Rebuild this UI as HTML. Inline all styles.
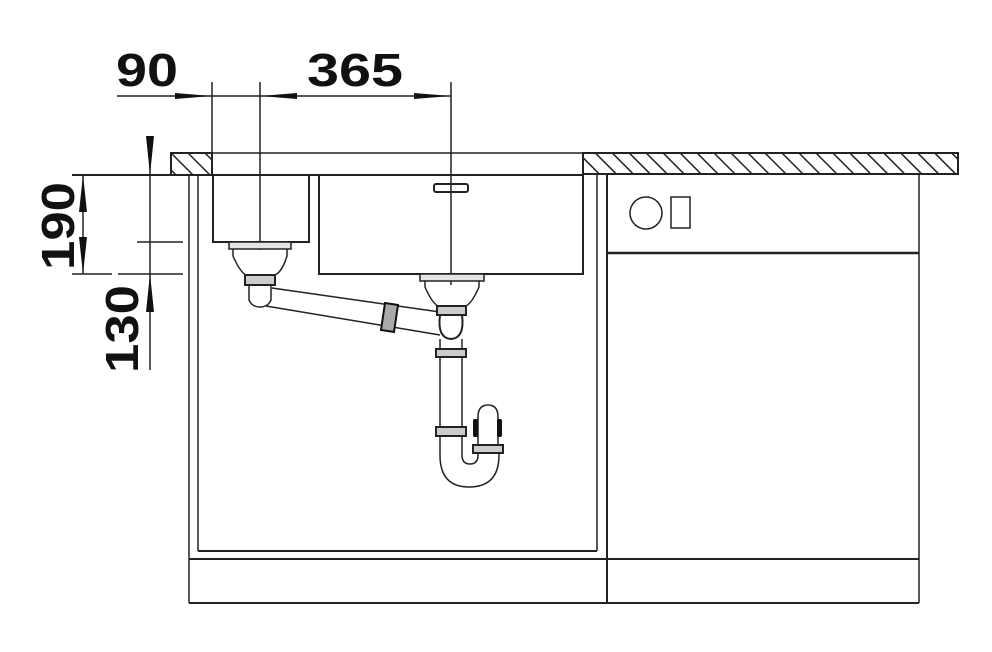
<!DOCTYPE html>
<html><head><style>html,body{margin:0;padding:0;background:#fff}</style></head><body>
<svg width="992" height="652" viewBox="0 0 992 652" xmlns="http://www.w3.org/2000/svg" style="display:block">
<defs>
<pattern id="h" width="12" height="12" patternUnits="userSpaceOnUse" patternTransform="rotate(-45)">
<rect width="12" height="12" fill="#fff"/><line x1="0" y1="0" x2="0" y2="12" stroke="#222" stroke-width="3"/></pattern>
</defs>
<g fill="none" stroke="#222" stroke-width="1.5">
<!-- countertop -->
<rect x="171" y="153" width="41" height="22" fill="url(#h)" stroke-width="2"/>
<rect x="583" y="153" width="375" height="21" fill="url(#h)" stroke-width="2"/>
<line x1="212" y1="153" x2="583" y2="153"/>
<line x1="72" y1="175" x2="583" y2="175" stroke-width="2"/>
<!-- cabinet walls -->
<line x1="189" y1="175" x2="189" y2="603"/>
<line x1="198" y1="175" x2="198" y2="551"/>
<line x1="597" y1="174" x2="597" y2="551"/>
<line x1="607" y1="174" x2="607" y2="603" stroke-width="2"/>
<line x1="919" y1="174" x2="919" y2="603"/>
<line x1="198" y1="551" x2="597" y2="551" stroke-width="2"/>
<line x1="189" y1="559" x2="919" y2="559" stroke-width="2"/>
<line x1="189" y1="603" x2="919" y2="603" stroke-width="2"/>
<line x1="607" y1="253" x2="919" y2="253" stroke-width="2.5"/>
<circle cx="646" cy="213" r="16"/>
<rect x="671" y="197" width="19" height="31"/>
<!-- bowls -->
<polyline points="213,175 213,242 309,242 309,175" stroke-width="2"/>
<polyline points="319,175 319,274 583,274 583,175" stroke-width="2"/>
<rect x="434" y="184" width="34" height="8" rx="2" stroke-width="2"/>
<!-- center lines -->
<line x1="212" y1="82" x2="212" y2="153"/>
<line x1="260" y1="82" x2="260" y2="250"/>
<line x1="451" y1="82" x2="451" y2="285"/>
<!-- horizontal dim -->
<line x1="117" y1="96" x2="451" y2="96"/>
<!-- vertical dims -->
<line x1="150" y1="136" x2="150" y2="370"/>
<line x1="137" y1="242" x2="183" y2="242"/>
<line x1="72" y1="274" x2="183" y2="274" stroke-dasharray="40,6,70"/>
<line x1="83" y1="175" x2="83" y2="274"/>
<!-- small drain -->
<rect x="229" y="242" width="62" height="7" fill="#e4e4e4"/>
<path d="M233,249 L233,256 Q240,272 246,275 L275,275 Q282,272 287,256 L287,249"/>
<rect x="245" y="275" width="30" height="10" fill="#ccc" stroke-width="2"/>
<path d="M249,285 L249,300 Q252,307 260,307 Q268,307 271,300 L271,285"/>
<line x1="272" y1="288" x2="440" y2="312"/>
<line x1="266" y1="306" x2="440" y2="335"/>
<!-- main drain -->
<rect x="420" y="274" width="64" height="7" fill="#e4e4e4"/>
<path d="M425,281 L425,287 Q432,303 438,306 L466,306 Q472,303 479,287 L479,281"/>
<rect x="437" y="306" width="29" height="9" fill="#ccc" stroke-width="2"/>
<path d="M440,315 Q437,338 451,339 Q465,338 462,315" stroke-width="2"/>
<rect x="436" y="349" width="30" height="8" fill="#ccc" stroke-width="2"/>
<line x1="440" y1="339" x2="440" y2="349"/>
<line x1="462" y1="339" x2="462" y2="349"/>
<line x1="440" y1="357" x2="440" y2="427"/>
<line x1="462" y1="357" x2="462" y2="427"/>
<rect x="436" y="427" width="30" height="9" fill="#ccc" stroke-width="2"/>
<path d="M440,436 L440,455 Q440,487 469,487 Q499,487 499,455 L499,452"/>
<path d="M462,436 L462,455 Q462,464 470,464 Q478,464 478,455 L478,452"/>
<rect x="473" y="445" width="30" height="8" fill="#ccc" stroke-width="2"/>
<path d="M478,445 L478,417 Q478,405 488,405 Q498,405 498,417 L498,445"/>
</g>
<g fill="#111" stroke="none">
<rect x="473" y="419" width="5" height="18" rx="2"/>
<rect x="497" y="419" width="5" height="18" rx="2"/>
<polygon points="385,303 398,305 394,332 381,330" fill="#aaa" stroke="#111" stroke-width="2"/>
<polygon points="175,93 212,96 175,99"/>
<polygon points="297,93 260,96 297,99"/>
<polygon points="414,93 451,96 414,99"/>
<polygon points="146,136 154,136 150,175"/>
<polygon points="146,312 154,312 150,274"/>
<polygon points="79,212 87,212 83,175"/>
<polygon points="79,237 87,237 83,274"/>
</g>
<g font-family="Liberation Sans, sans-serif" font-weight="bold" font-size="46" fill="#111">
<text x="116" y="86" textLength="62" lengthAdjust="spacingAndGlyphs">90</text>
<text x="307" y="86" textLength="96" lengthAdjust="spacingAndGlyphs">365</text>
<text transform="translate(74,270) rotate(-90)" textLength="88" lengthAdjust="spacingAndGlyphs">190</text>
<text transform="translate(138,373) rotate(-90)" textLength="88" lengthAdjust="spacingAndGlyphs">130</text>
</g>
</svg>
</body></html>
